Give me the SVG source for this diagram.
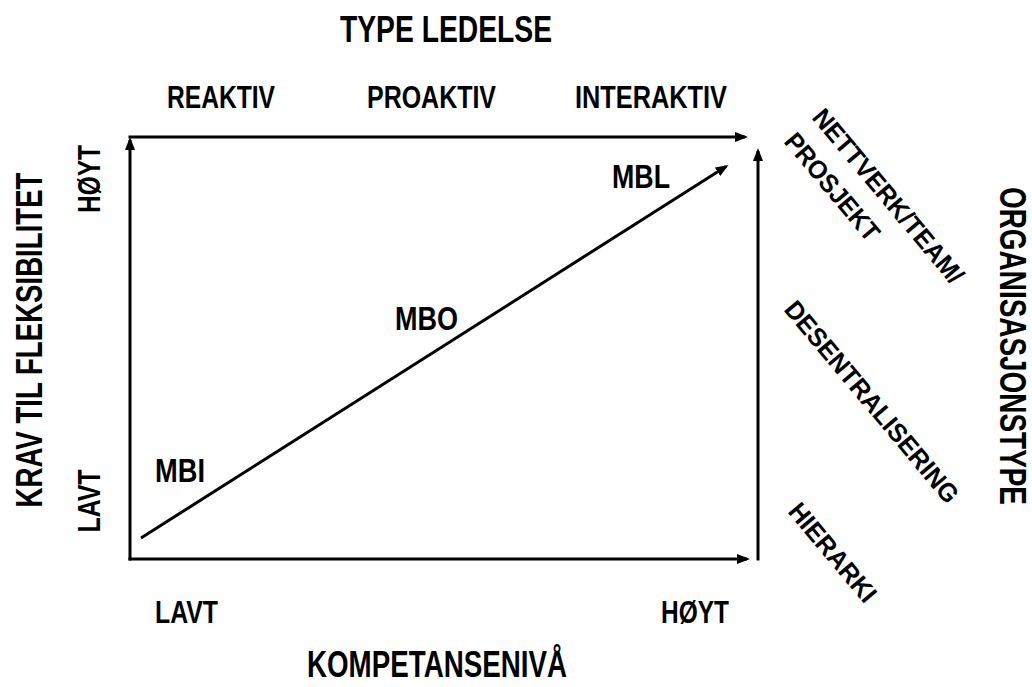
<svg xmlns="http://www.w3.org/2000/svg" width="1032" height="687" viewBox="0 0 1032 687">
  <style>
    .t { font-family: "Liberation Sans", Arial, sans-serif; font-weight: bold; fill: #000; }
    .title { font-size: 36px; }
    .lab { font-size: 31px; }
    .mb { font-size: 34px; }
    .diag { font-size: 26px; }
    .ln { stroke: #000; stroke-width: 3; fill: none; marker-end: url(#arr); }
  </style>
  <defs>
    <marker id="arr" markerUnits="userSpaceOnUse" markerWidth="14" markerHeight="12" refX="10" refY="5" orient="auto">
      <path d="M0,0 L13,5 L0,10 z" fill="#000"/>
    </marker>
  </defs>
  <rect width="1032" height="687" fill="#fff"/>

  <g id="connectors">
    <line class="ln" x1="130" y1="560.5" x2="130" y2="140"/>
    <line class="ln" x1="128.5" y1="137" x2="745" y2="137"/>
    <line class="ln" x1="128.5" y1="559" x2="747" y2="559"/>
    <line class="ln" x1="758" y1="560.5" x2="758" y2="151"/>
    <line class="ln" x1="141" y1="538" x2="726" y2="166.5"/>
  </g>

  <g id="title-type-ledelse">
    <text class="t title" x="340" y="42" textLength="212" lengthAdjust="spacingAndGlyphs">TYPE LEDELSE</text>
  </g>
  <g id="reaktiv"><text class="t lab" x="167" y="108" textLength="108" lengthAdjust="spacingAndGlyphs">REAKTIV</text></g>
  <g id="proaktiv"><text class="t lab" x="367" y="108" textLength="129" lengthAdjust="spacingAndGlyphs">PROAKTIV</text></g>
  <g id="interaktiv"><text class="t lab" x="575" y="108" textLength="152" lengthAdjust="spacingAndGlyphs">INTERAKTIV</text></g>

  <g id="title-krav">
    <text class="t title" transform="translate(42,340) rotate(-90)" text-anchor="middle" textLength="335" lengthAdjust="spacingAndGlyphs">KRAV TIL FLEKSIBILITET</text>
  </g>
  <g id="left-hoyt"><text class="t lab" transform="translate(100,179) rotate(-90)" text-anchor="middle" textLength="68" lengthAdjust="spacingAndGlyphs">HØYT</text></g>
  <g id="left-lavt"><text class="t lab" transform="translate(100,501) rotate(-90)" text-anchor="middle" textLength="63" lengthAdjust="spacingAndGlyphs">LAVT</text></g>

  <g id="bottom-lavt"><text class="t lab" x="155" y="623" textLength="63" lengthAdjust="spacingAndGlyphs">LAVT</text></g>
  <g id="bottom-hoyt"><text class="t lab" x="661" y="623" textLength="68" lengthAdjust="spacingAndGlyphs">HØYT</text></g>
  <g id="title-kompetanse">
    <text class="t title" x="307" y="677" textLength="260" lengthAdjust="spacingAndGlyphs">KOMPETANSENIVÅ</text>
  </g>

  <g id="title-organisasjon">
    <text class="t title" transform="translate(1000,346) rotate(90)" text-anchor="middle" textLength="318" lengthAdjust="spacingAndGlyphs">ORGANISASJONSTYPE</text>
  </g>

  <g id="mbi"><text class="t mb" x="155" y="482" textLength="50" lengthAdjust="spacingAndGlyphs">MBI</text></g>
  <g id="mbo"><text class="t mb" x="395" y="330" textLength="63" lengthAdjust="spacingAndGlyphs">MBO</text></g>
  <g id="mbl"><text class="t mb" x="612" y="188" textLength="58" lengthAdjust="spacingAndGlyphs">MBL</text></g>

  <g id="nettverk">
    <text class="t diag" transform="translate(811,118) rotate(50)" textLength="219" lengthAdjust="spacingAndGlyphs">NETTVERK/TEAM/</text>
    <text class="t diag" transform="translate(783,142) rotate(50)" textLength="132" lengthAdjust="spacingAndGlyphs">PROSJEKT</text>
  </g>
  <g id="desentralisering">
    <text class="t diag" transform="translate(783,310) rotate(50)" textLength="255" lengthAdjust="spacingAndGlyphs">DESENTRALISERING</text>
  </g>
  <g id="hierarki">
    <text class="t diag" transform="translate(787,512) rotate(50)" textLength="121" lengthAdjust="spacingAndGlyphs">HIERARKI</text>
  </g>
</svg>
